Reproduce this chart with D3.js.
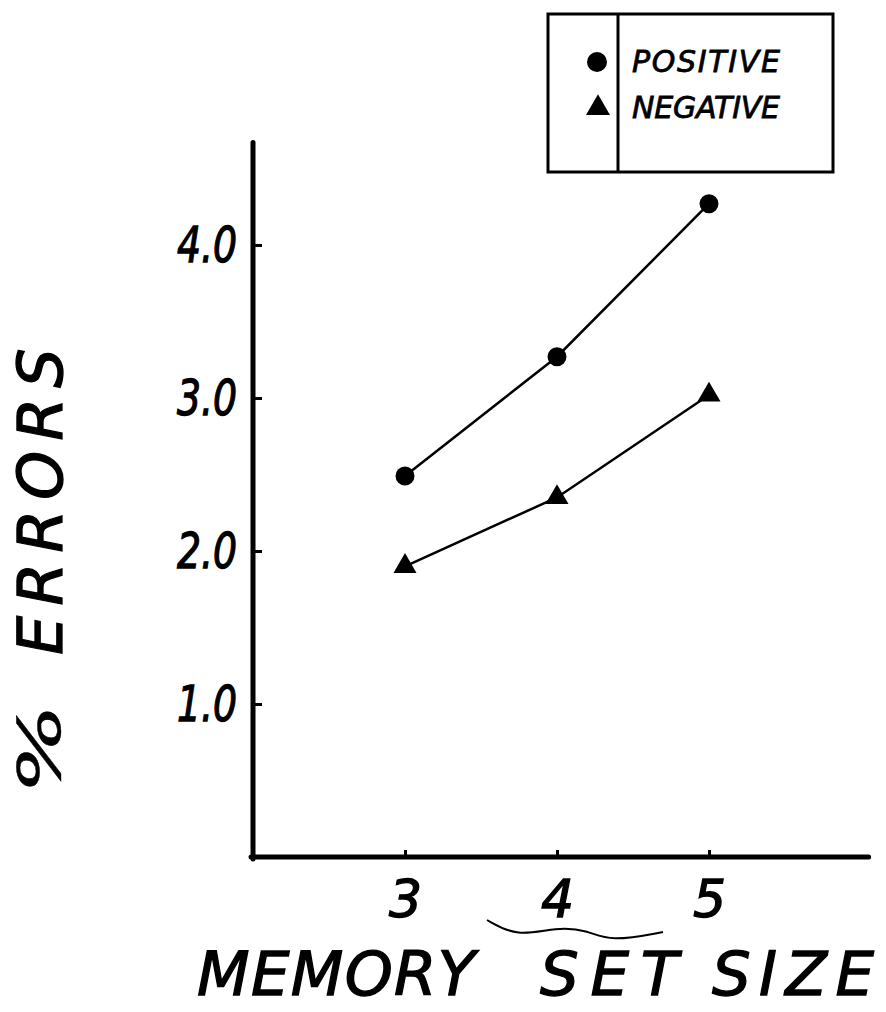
<!DOCTYPE html>
<html>
<head>
<meta charset="utf-8">
<script src="https://cdn.jsdelivr.net/npm/d3@7"></script>
<style>
  html, body { margin: 0; padding: 0; background: #fff; }
  svg { display: block; }
  text {
    font-family: "DejaVu Sans", sans-serif;
    font-style: italic;
    fill: #000;
    stroke: #000;
    stroke-width: 1.3px;
  }
</style>
</head>
<body>
<svg id="chart" width="886" height="1012"></svg>
<script>
// Memory set size on the x axis, percent errors on the y axis
const setSizes = [3, 4, 5];
const positiveErrors = [2.49, 3.27, 4.27];
const negativeErrors = [1.9, 2.35, 3.02];
const yTicks = [1, 2, 3, 4];
const seriesNames = ["POSITIVE", "NEGATIVE"];
const xTitleWords = ["MEMORY", "SET", "SIZE"];

const svg = d3.select("#chart");

const x = d3.scaleLinear().domain([2, 5]).range([253, 709]);
const y = d3.scaleLinear().domain([0, 4]).range([857, 245]);

// axis frame (heavy pen lines)
const axisX0 = x(2), axisXEnd = x(6.05);
const axisY0 = y(0), axisYTop = y(4.67);
svg.append("line")
  .attr("x1", axisX0).attr("x2", axisX0)
  .attr("y1", axisYTop).attr("y2", axisY0 + 2)
  .attr("stroke", "#000").attr("stroke-width", 5).attr("stroke-linecap", "round");
svg.append("line")
  .attr("x1", axisX0 - 2).attr("x2", axisXEnd)
  .attr("y1", axisY0).attr("y2", axisY0)
  .attr("stroke", "#000").attr("stroke-width", 5).attr("stroke-linecap", "round");

// y axis: ticks pointing into the plot, labels on the left
const yAxis = d3.axisLeft(y)
  .tickValues(yTicks)
  .tickFormat(d3.format(".1f"))
  .tickSizeInner(-9)
  .tickSizeOuter(0)
  .tickPadding(16);
const gy = svg.append("g").attr("transform", `translate(${axisX0},0)`).call(yAxis);
gy.select(".domain").remove();
gy.selectAll(".tick line").attr("stroke", "#000").attr("stroke-width", 3);
gy.selectAll(".tick text")
  .attr("font-size", 50)
  .attr("font-family", null)
  .attr("fill", null)
  .attr("textLength", 60)
  .attr("lengthAdjust", "spacingAndGlyphs");

// x axis: ticks pointing up, labels below
const xAxis = d3.axisBottom(x)
  .tickValues(setSizes)
  .tickFormat(d3.format("d"))
  .tickSizeInner(-7)
  .tickSizeOuter(0)
  .tickPadding(23);
const gx = svg.append("g").attr("transform", `translate(0,${axisY0})`).call(xAxis);
gx.select(".domain").remove();
gx.selectAll(".tick line").attr("stroke", "#000").attr("stroke-width", 3);
gx.selectAll(".tick text")
  .attr("font-size", 52)
  .attr("font-family", null)
  .attr("fill", null);

// x axis title, hand-spaced word by word
const xTitleX = [197, 540, 712];
const xTitleLen = [278, 138, 162];
const xTitleParts = [];
xTitleWords.forEach((w, i) => {
  if (i > 0) xTitleParts.push({ text: " " });
  xTitleParts.push({ text: w, x: xTitleX[i], len: xTitleLen[i] });
});
const xTitle = svg.append("text")
  .attr("y", 995)
  .attr("font-size", 61);
xTitle.selectAll("tspan").data(xTitleParts).join("tspan")
  .attr("x", d => (d.x === undefined ? null : d.x))
  .attr("textLength", d => (d.len === undefined ? null : d.len))
  .attr("lengthAdjust", d => (d.len === undefined ? null : "spacing"))
  .text(d => d.text);

// y axis title
const yTitle = svg.append("g").attr("transform", "translate(62,0) rotate(-90)");
yTitle.append("text")
  .attr("x", -795).attr("y", -2)
  .attr("font-size", 58)
  .attr("style", "stroke-width:0.4px")
  .attr("textLength", 92)
  .attr("lengthAdjust", "spacingAndGlyphs")
  .text("%");
yTitle.append("text")
  .attr("x", -655).attr("y", 0)
  .attr("font-size", 62)
  .attr("letter-spacing", 10)
  .text("ERRORS");

// data lines and markers
const line = d3.line()
  .x(d => x(d[0]))
  .y(d => y(d[1]));

const positivePts = setSizes.map((s, i) => [s, positiveErrors[i]]);
const negativePts = setSizes.map((s, i) => [s, negativeErrors[i]]);

svg.append("path").datum(positivePts)
  .attr("d", line).attr("fill", "none")
  .attr("stroke", "#000").attr("stroke-width", 2.5);
svg.append("path").datum(negativePts)
  .attr("d", line).attr("fill", "none")
  .attr("stroke", "#000").attr("stroke-width", 2.5);

const circleSym = d3.symbol().type(d3.symbolCircle).size(Math.PI * 9.5 * 9.5);
const triSym = d3.symbol().type(d3.symbolTriangle).size(230);

svg.selectAll(".pos").data(positivePts).join("path")
  .attr("class", "pos")
  .attr("d", circleSym)
  .attr("transform", d => `translate(${x(d[0])},${y(d[1])})`)
  .attr("fill", "#000");
svg.selectAll(".neg").data(negativePts).join("path")
  .attr("class", "neg")
  .attr("d", triSym)
  .attr("transform", d => `translate(${x(d[0])},${y(d[1])})`)
  .attr("fill", "#000");

// legend box with a divider between symbols and names
const legend = svg.append("g").attr("transform", "translate(548,14)");
legend.append("rect")
  .attr("width", 285).attr("height", 158)
  .attr("fill", "none").attr("stroke", "#000").attr("stroke-width", 3);
legend.append("line")
  .attr("x1", 70).attr("x2", 70).attr("y1", 0).attr("y2", 158)
  .attr("stroke", "#000").attr("stroke-width", 3);
legend.append("path")
  .attr("d", d3.symbol().type(d3.symbolCircle).size(Math.PI * 10 * 10)())
  .attr("transform", "translate(49,48)");
legend.append("path")
  .attr("d", d3.symbol().type(d3.symbolTriangle).size(250)())
  .attr("transform", "translate(50,94)");
legend.selectAll(".lt").data(seriesNames).join("text")
  .attr("class", "lt")
  .attr("x", 84)
  .attr("y", (d, i) => 58 + i * 46)
  .attr("font-size", 30)
  .attr("style", "stroke-width:0.8px")
  .attr("textLength", 148)
  .attr("lengthAdjust", "spacing")
  .text(d => d);

// stray pen stroke beneath the "4" label
const scribble = [[487, 920], [517, 937], [557, 927], [587, 930], [610, 942], [663, 932]];
svg.append("path")
  .attr("d", d3.line().curve(d3.curveBasis)(scribble))
  .attr("fill", "none").attr("stroke", "#000").attr("stroke-width", 2);
</script>
</body>
</html>
